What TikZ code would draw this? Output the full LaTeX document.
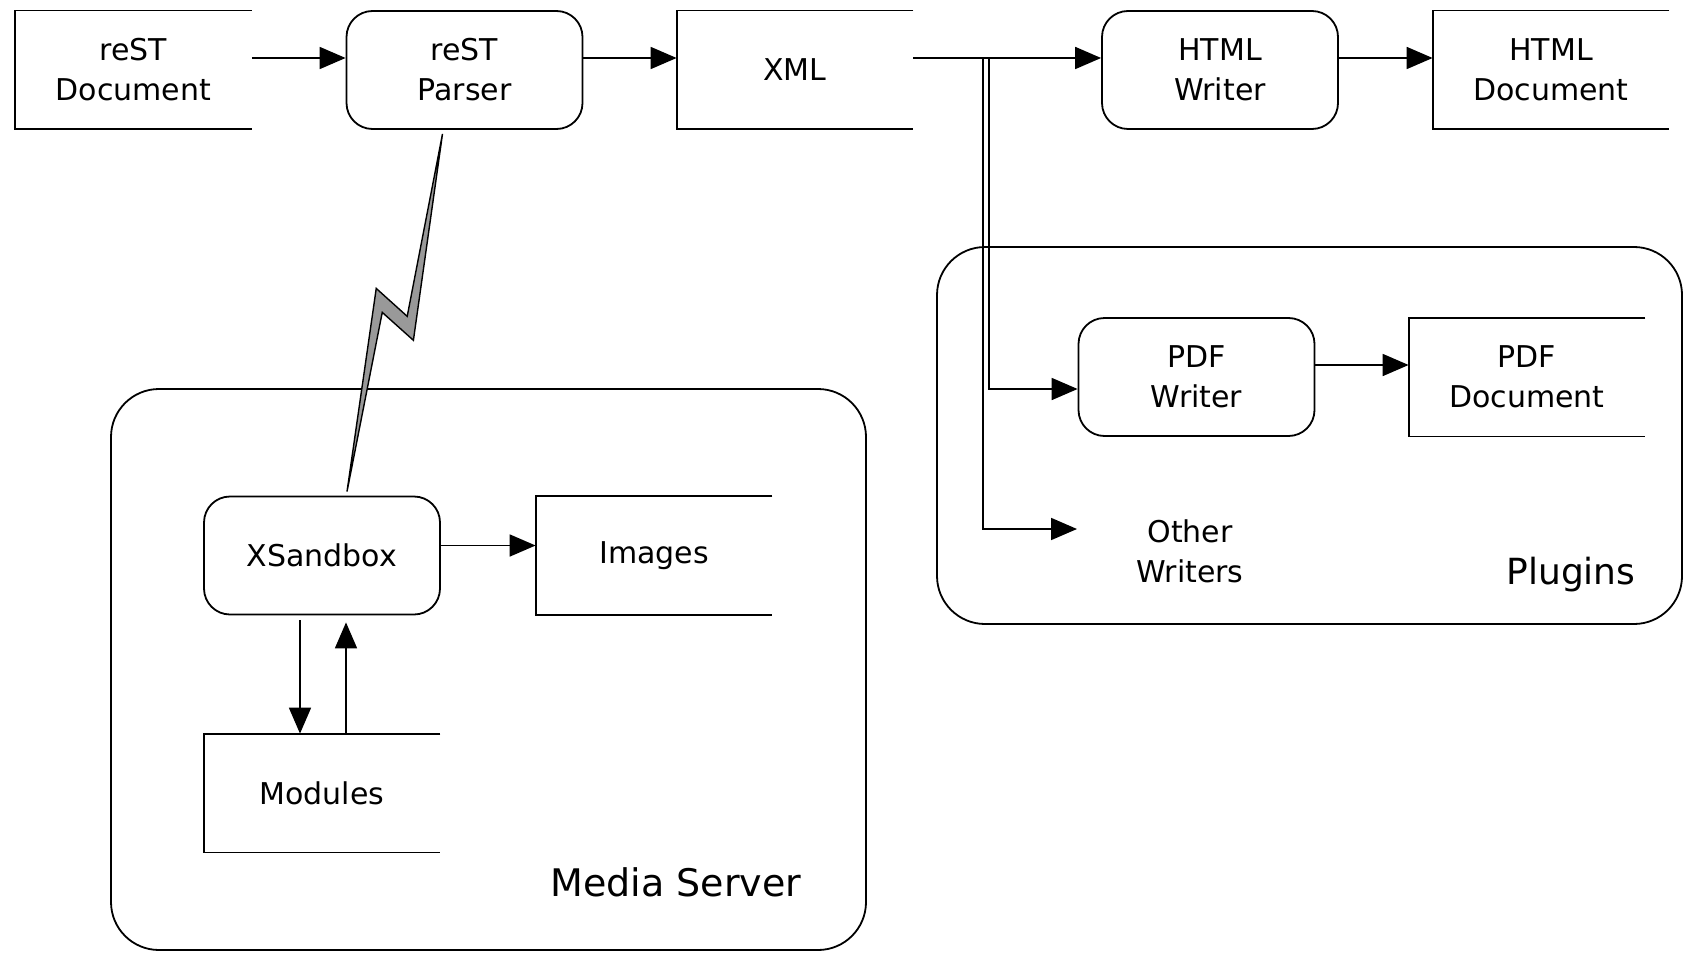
\documentclass[tikz,border=0pt]{standalone}
\usepackage{fontspec}
\setmainfont{DejaVu Sans}
\usepackage{tikz}
\usepackage{xcolor}
\usetikzlibrary{calc,shapes,positioning,arrows.meta}

\tikzset{
  arr/.style={-{Triangle[length=13pt,width=11pt]}, line width=0.9pt},
  process/.style={draw, line width=0.9pt, rounded corners=13pt, minimum width=118pt, minimum height=59pt, align=center, font=\fontsize{15}{20}\selectfont},
  store/.style={minimum width=118pt, minimum height=59pt, align=center, font=\fontsize{15}{20}\selectfont},
  container/.style={draw, line width=0.9pt, rounded corners=24pt}
}

\begin{document}
\begin{tikzpicture}[x=0.5pt,y=-0.5pt]
  \useasboundingbox (0,0) rectangle (1684,952);

  % containers
  \draw[container] (111,389) rectangle (866,950);
  \draw[container] (937,247) rectangle (1682,624);
  \node[font=\fontsize{19}{22}\selectfont] (medialbl) at (676,882) {Media Server};
  \node[font=\fontsize{18}{22}\selectfont] (pluginlbl) at (1571,575) {Plugins};

  % main pipeline
  \node[store] (restdoc) at (133.5,70) {reST\\Document};
  \node[process] (parser) at (464.5,70) {reST\\Parser};
  \node[store] (xml) at (795,70) {XML};
  \node[process] (htmlw) at (1220,70) {HTML\\Writer};
  \node[store] (htmldoc) at (1551,70) {HTML\\Document};

  % plugins
  \node[process] (pdfw) at (1196.5,377) {PDF\\Writer};
  \node[store] (pdfdoc) at (1527,377) {PDF\\Document};
  \node[store] (other) at (1190,551) {Other\\Writers};

  % media server
  \node[process] (xsb) at (322,555.5) {XSandbox};
  \node[store] (images) at (654,555.5) {Images};
  \node[store] (mods) at (322,793) {Modules};

  % open stores
  \foreach \s in {restdoc,xml,htmldoc,pdfdoc,images,mods}
    \draw[line width=0.9pt] (\s.north east) -- (\s.north west) -- (\s.south west) -- (\s.south east);

  % flow
  \draw[arr] ([yshift=6pt]restdoc.east) -- ([yshift=6pt]parser.west);
  \draw[arr] ([yshift=6pt]parser.east) -- ([yshift=6pt]xml.west);
  \draw[arr] ([yshift=6pt]xml.east) -- ([yshift=6pt]htmlw.west);
  \draw[arr] ([yshift=6pt]htmlw.east) -- ([yshift=6pt]htmldoc.west);
  \coordinate (forka) at (983,58);
  \coordinate (forkb) at (989,58);
  \coordinate (otherin) at (1077,529);
  \draw[arr] (forkb) |- ([yshift=-6pt]pdfw.west);
  \draw[arr] (forka) |- (otherin);
  \draw[arr] ([yshift=6pt]pdfw.east) -- ([yshift=6pt]pdfdoc.west);
  \draw[arr] ([yshift=5pt]xsb.east) -- ([yshift=5pt]images.west);
  \draw[arr] ([xshift=-11pt,yshift=-2.5pt]xsb.south) -- ([xshift=-11pt]mods.north);
  \draw[arr] ([xshift=12pt]mods.north) -- ([xshift=12pt,yshift=-3.5pt]xsb.south);

  % lightning link
  \coordinate (bolta) at ([xshift=-11pt,yshift=-2pt]parser.south);
  \coordinate (boltb) at ([xshift=12.5pt,yshift=2pt]xsb.north);
  \draw[line width=0.7pt, fill=black!40, line join=miter]
    (bolta) -- ($(bolta)!0.577!(boltb)+(13pt,0)$) -- ($(bolta)!0.499!(boltb)+(-6.3pt,0)$)
    -- (boltb) -- ($(bolta)!0.432!(boltb)+(-12.5pt,0)$) -- ($(bolta)!0.51!(boltb)+(6.7pt,0)$) -- cycle;
\end{tikzpicture}
\end{document}
